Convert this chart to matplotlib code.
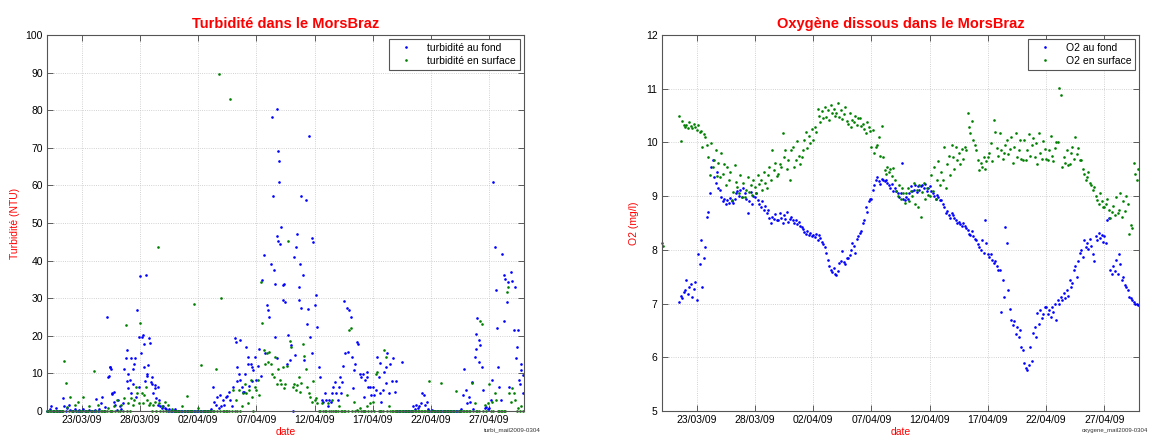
import numpy as np
import matplotlib
matplotlib.use('Agg')
import matplotlib.pyplot as plt
import matplotlib.dates as mdates
from datetime import datetime, timedelta

plt.rcParams['font.family'] = ['Liberation Sans', 'DejaVu Sans']

N = None
START = datetime(2009, 3, 20)
END = datetime(2009, 4, 30)
tick_dates = ['23/03/09', '28/03/09', '02/04/09', '07/04/09', '12/04/09',
              '17/04/09', '22/04/09', '27/04/09']

# ---- readings every 3 hours (8 per day) from 20/03/09 00:00 ----
o2_fond = [
    [N, N, N, N, N, N, N, N],
    [N, N, N, N, 7.03, 7.15, 7.10, 7.22],
    [7.25, 7.44, 7.18, 7.30, 7.37, 7.12, 7.28, 7.40],
    [7.06, 7.93, 7.74, 8.18, 7.30, 7.85, 8.05, 8.62],
    [8.70, 9.05, 9.55, 9.67, 9.36, 9.24, 9.45, 9.15],
    [9.11, 8.99, 8.90, 8.95, 8.86, 8.92, 8.88, 8.96],
    [8.90, 8.87, 8.95, 9.05, 9.10, 9.00, 9.12, 8.98],
    [9.15, 9.05, 8.95, 8.69, 8.90, 9.08, 8.85, 9.00],
    [8.99, 9.05, 8.93, 8.86, 8.80, 8.90, 8.75, 8.82],
    [8.69, 8.75, 8.60, 8.50, 8.62, 8.58, 8.66, 8.55],
    [8.55, 8.69, 8.60, 8.50, 8.65, 8.58, 8.70, 8.52],
    [8.58, 8.62, 8.56, 8.50, 8.55, 8.48, 8.52, 8.45],
    [8.42, 8.38, 8.34, 8.30, 8.36, 8.28, 8.32, 8.26],
    [8.28, 8.24, 8.30, 8.18, 8.28, 8.22, 8.15, 8.10],
    [8.06, 7.95, 7.81, 7.70, 7.62, 7.58, 7.66, 7.55],
    [7.53, 7.60, 7.75, 7.80, 7.97, 7.78, 7.74, 7.85],
    [7.85, 7.90, 8.00, 8.12, 8.08, 7.95, 8.20, 8.25],
    [8.31, 8.35, 8.50, 8.55, 8.80, 8.70, 8.90, 8.95],
    [8.95, 9.11, 9.20, 9.30, 9.35, 9.28, 9.22, 9.32],
    [9.30, 9.28, 9.30, 9.25, 9.20, 9.15, 9.22, 9.10],
    [9.15, 9.10, 9.05, 8.99, 9.05, 9.62, 8.95, 8.92],
    [8.99, 8.95, 9.05, 9.18, 9.10, 9.12, 9.20, 9.08],
    [9.18, 9.12, 9.18, 9.20, 9.15, 9.22, 9.10, 9.16],
    [9.18, 9.10, 9.05, 9.00, 8.95, 9.02, 8.98, 8.92],
    [8.93, 8.86, 8.80, 8.69, 8.72, 8.65, 8.60, 8.68],
    [8.65, 8.60, 8.56, 8.50, 8.52, 8.48, 8.45, 8.50],
    [8.45, 8.40, 8.37, 8.30, 8.28, 8.35, 8.25, 8.20],
    [8.18, 8.10, 8.06, 8.00, 8.18, 7.95, 8.56, 8.12],
    [7.93, 7.86, 7.93, 7.81, 7.75, 7.80, 7.70, 7.62],
    [7.62, 6.85, 7.44, 7.13, 8.43, 8.12, 7.25, 6.90],
    [6.69, 6.60, 6.68, 6.43, 6.57, 6.38, 6.50, 6.20],
    [6.14, 5.89, 5.80, 5.77, 5.85, 6.20, 5.93, 6.45],
    [6.57, 6.37, 6.82, 6.62, 6.88, 6.74, 6.80, 6.93],
    [6.94, 6.80, 6.88, 6.75, 6.93, 6.85, 6.99, 6.70],
    [7.06, 6.99, 7.12, 7.06, 7.20, 7.10, 7.25, 7.15],
    [7.44, 7.31, 7.38, 7.62, 7.69, 7.50, 7.80, 7.95],
    [8.00, 7.86, 8.18, 8.06, 8.12, 8.02, 8.20, 8.08],
    [7.93, 7.80, 8.25, 8.18, 8.31, 8.22, 8.28, 8.15],
    [8.25, 8.12, 8.56, 8.60, 7.62, 7.55, 7.70, 7.60],
    [7.81, 7.55, 7.93, 7.74, 7.44, 7.50, 7.35, 7.30],
    [7.25, 7.13, 7.10, 7.06, 7.03, 7.00, 6.99, 6.97],
]

o2_surface = [
    [8.12, 8.08, N, N, N, N, N, N],
    [N, N, N, N, 10.49, 10.02, 10.40, 10.33],
    [10.28, 10.32, 10.26, 10.38, 10.30, 10.27, 10.35, 10.29],
    [10.24, 10.33, 10.20, 10.22, 9.92, 10.15, 10.10, 9.95],
    [9.73, 9.40, 9.98, 9.55, 9.67, 9.85, 9.38, 9.62],
    [9.36, 9.80, 9.42, 9.60, 9.20, 9.55, 9.30, 9.45],
    [8.93, 9.08, 9.58, 9.27, 9.17, 9.05, 9.40, 8.98],
    [9.24, 8.98, 9.11, 9.35, 9.08, 9.20, 9.02, 9.30],
    [9.17, 9.05, 9.39, 9.22, 9.30, 9.12, 9.45, 9.25],
    [9.15, 9.40, 9.55, 9.30, 9.86, 9.48, 9.62, 9.38],
    [9.42, 9.60, 9.55, 10.17, 9.73, 9.85, 9.50, 9.68],
    [9.30, 9.85, 9.92, 9.55, 9.68, 10.02, 9.75, 9.60],
    [9.73, 9.86, 10.05, 10.20, 9.90, 10.12, 9.98, 10.25],
    [10.04, 10.29, 10.20, 10.62, 10.50, 10.38, 10.58, 10.45],
    [10.66, 10.48, 10.60, 10.42, 10.70, 10.55, 10.63, 10.50],
    [10.54, 10.73, 10.48, 10.60, 10.44, 10.52, 10.65, 10.40],
    [10.35, 10.55, 10.29, 10.42, 10.38, 10.50, 10.32, 10.45],
    [10.45, 10.30, 10.35, 10.25, 10.17, 10.38, 10.28, 10.22],
    [9.92, 10.23, 9.80, 9.92, 9.95, 10.10, 9.75, 10.30],
    [9.73, 9.48, 9.42, 9.55, 9.45, 9.50, 9.38, 9.52],
    [9.30, 9.10, 9.00, 9.20, 8.95, 9.15, 9.05, 8.88],
    [9.05, 9.15, 8.90, 9.10, 9.00, 9.25, 8.85, 9.12],
    [8.80, 9.20, 8.61, 9.08, 9.25, 8.95, 9.15, 9.02],
    [9.00, 9.40, 9.10, 9.55, 8.95, 9.30, 9.65, 9.20],
    [9.45, 9.30, 9.92, 9.15, 9.60, 9.75, 9.40, 9.95],
    [9.73, 9.50, 9.92, 9.67, 9.80, 9.60, 9.88, 9.70],
    [9.92, 9.86, 10.54, 10.29, 10.17, 10.40, 10.05, 9.95],
    [9.86, 9.67, 9.48, 9.61, 9.55, 9.72, 9.50, 9.65],
    [9.73, 9.80, 9.98, 9.65, 10.42, 10.20, 9.90, 9.75],
    [10.17, 9.85, 9.70, 9.80, 9.95, 10.05, 9.78, 9.88],
    [10.10, 9.61, 9.92, 10.17, 9.73, 9.85, 10.05, 9.70],
    [9.67, 10.04, 9.67, 9.86, 10.15, 9.75, 9.95, 10.08],
    [9.73, 9.98, 9.60, 10.17, 9.80, 9.70, 10.02, 9.88],
    [9.70, 9.67, 9.86, 10.12, 9.75, 9.65, 9.90, 10.00],
    [10.00, 11.02, 10.88, 9.55, 9.73, 9.62, 9.85, 9.58],
    [9.60, 9.80, 9.92, 9.70, 10.10, 9.78, 9.90, 9.68],
    [9.67, 9.50, 9.42, 9.30, 9.35, 9.45, 9.25, 9.20],
    [9.11, 9.17, 9.00, 8.93, 8.85, 9.05, 8.90, 8.80],
    [8.80, 8.86, 8.95, 8.74, 8.60, 8.70, 8.82, 8.65],
    [8.99, 8.68, 8.75, 9.05, 8.61, 8.90, 8.72, 9.00],
    [8.85, 8.29, 8.46, 8.40, 9.61, 9.42, 9.30, 9.50],
]

turb_fond = [
    [0, 0, 0.5, 1.2, 0, 0, 0.8, 0],
    [0, 0, 0, 3.5, 1.2, 0, 0.7, 1.6],
    [0.3, 0, 0, 0.5, 0, 0, 0.3, 0],
    [0, 0.5, 0, 0, 0, 0.3, 0, 0],
    [0, 0.3, 3.2, 0, 0.5, 2.0, 3.8, 0],
    [1.0, 25.1, 9.0, 11.8, 11.3, 4.7, 2.5, 1.6],
    [0.3, 3.0, 1.2, 0.5, 2.0, 11.3, 14.0, 16.2],
    [6.0, 8.2, 4.7, 7.3, 12.6, 3.8, 26.9, 6.4],
    [35.9, 19.6, 20.1, 11.7, 36.2, 9.9, 19.5, 18.2],
    [9.0, 4.7, 6.0, 3.4, 1.6, 2.9, 1.2, 0.7],
    [1.2, 0.7, 0.4, 0, 0.5, 0, 0, 0],
    [0.5, 0, 0, 0, 0, 0, 0, 0],
    [0, 0, 0, 0, 0, 0, 0, 0],
    [0, 0, 0, 0, 0, 0, 0, 0],
    [0, 0.5, 6.4, 2.5, 1.6, 3.8, 0.8, 4.3],
    [1.2, 2.9, 1.6, 3.7, 4.1, 5.0, 2.9, 1.2],
    [6.4, 19.3, 18.4, 11.7, 9.9, 8.2, 6.4, 5.0],
    [9.9, 17.1, 14.4, 6.7, 12.6, 11.7, 10.8, 14.4],
    [8.2, 12.0, 16.5, 9.3, 34.8, 41.4, 15.4, 28.2],
    [26.9, 25.1, 39.2, 78.3, 37.4, 19.7, 46.6, 45.3],
    [44.4, 48.8, 33.4, 33.9, 29.1, 12.6, 20.2, 13.5],
    [17.5, 0.0, 40.9, 43.5, 47.2, 29.6, 39.2, 27.3],
    [36.2, 13.6, 56.0, 23.2, 73.1, 19.7, 45.9, 44.9],
    [28.2, 30.8, 22.3, 11.7, 9.0, 2.9, 2.5, 4.7],
    [2.9, 1.2, 2.9, 2.5, 4.7, 6.4, 7.8, 4.7],
    [2.9, 6.4, 4.7, 7.8, 29.3, 15.4, 27.3, 15.8],
    [26.9, 25.1, 14.4, 10.8, 12.6, 18.4, 17.7, 9.9],
    [9.0, 9.9, 3.8, 8.2, 9.0, 6.4, 6.4, 4.3],
    [6.4, 4.3, 5.6, 14.4, 9.0, 4.7, 2.5, 5.6],
    [10.3, 11.7, 15.4, 4.7, 12.6, 8.0, 14.0, 5.0],
    [8.0, 0, 0, 0, 12.9, 0, 0, 0],
    [0, 0, 0, 0, 1.2, 0.5, 1.6, 0.8],
    [1.2, 2.0, 4.7, 4.3, 1.5, 2.5, 0.5, 0],
    [0, 0.3, 0, 0, 0, 0, 0, 0],
    [0, 0, 0, 0, 0, 0, 0, 0],
    [0, 0, 0, 0, 0, 0.5, 4.3, 11.3],
    [5.6, 2.0, 3.8, 2.5, 7.8, 0.5, 14.4, 16.6],
    [24.6, 18.8, 17.5, 11.7, 5.6, 0.7, 1.0, 0.5],
    [0.7, 2.9, 8.2, 61.0, 43.5, 32.2, 11.7, 6.4],
    [2.9, 41.7, 36.2, 35.2, 29.1, 34.2, 6.4, 36.9],
    [34.6, 21.5, 33.0, 17.1, 21.5, 7.3, 10.9, 4.7],
]

turb_surface = [
    [0, 0, 0, 0, 0, 0, 0, 0],
    [0, 0, 0, 0, 13.4, 7.4, 1.0, 0],
    [3.8, 0, 0, 1.6, 0, 2.5, 0, 0],
    [0, 3.8, 0, 0, 0, 1.2, 0, 0],
    [10.7, 0, 0, 1.6, 0, 0, 0, 0],
    [0, 0, 0.8, 0, 0, 0, 1.2, 0],
    [2.9, 0, 0, 1.6, 0, 3.4, 22.9, 0],
    [2.0, 0, 3.4, 1.6, 2.9, 6.4, 4.7, 2.0],
    [23.4, 4.7, 2.0, 4.3, 6.4, 2.9, 1.6, 2.0],
    [0, 1.6, 2.5, 0, 43.7, 2.0, 0, 1.2],
    [0, 2.5, 0, 1.6, 0, 0, 0.5, 0],
    [0, 0, 0, 0, 0, 1.2, 0, 0],
    [4.0, 0, 0, 0, 0, 28.4, 0, 0],
    [0.7, 0, 12.2, 0, 0, 0, 0, 0],
    [0, 0, 0, 0, 11.3, 0, 89.6, 0],
    [30.0, 0, 0, 0, 0, 0, 82.9, 0],
    [5.6, 0, 3.0, 0, 5.6, 0, 1.2, 4.7],
    [7.3, 4.7, 2.0, 5.6, 8.2, 3.8, 0, 6.4],
    [5.5, 8.2, 4.3, 34.4, 23.3, 16.2, 12.6, 15.4],
    [13.1, 15.8, 12.6, 9.9, 9.0, 14.4, 7.3, 11.3],
    [8.2, 7.3, 11.7, 6.0, 7.3, 12.0, 45.3, 18.7],
    [17.1, 6.4, 7.3, 5.6, 6.9, 9.0, 5.0, 7.5],
    [17.8, 14.6, 11.1, 6.4, 4.7, 3.8, 2.5, 8.0],
    [2.9, 3.4, 2.0, 0, 0, 2.0, 0, 0],
    [0, 2.0, 0, 0, 2.9, 0, 0, 0],
    [0, 1.2, 0, 0, 0, 0, 4.3, 0],
    [21.5, 22.2, 0, 2.5, 0, 0.3, 0, 0.7],
    [0, 0, 0, 0, 1.2, 0, 2.0, 0],
    [2.5, 0, 9.9, 10.3, 0, 0, 0, 0],
    [16.2, 14.4, 0, 1.2, 0, 0, 0, 0],
    [0, 0, 0, 0, 0, 0, 0, 0],
    [0, 0, 0, 0, 0, 0, 0, 0],
    [0, 0, 0, 0, 0, 0, 0, 8.0],
    [0, 0, 0, 0, 0, 0, 0, 7.4],
    [0, 0, 0, 0, 0, 0, 0, 0],
    [0, 5.4, 0, 0, 0, 0, 0, 0],
    [0, 0, 0, 0, 7.4, 0, 2.0, 0],
    [0, 0, 24.0, 23.2, 0, 1.6, 0, 2.0],
    [7.3, 0, 2.5, 0, 4.7, 2.9, 0, 0],
    [0, 0, 0, 0, 31.7, 33.0, 4.7, 2.5],
    [6.0, 4.7, 2.9, 0, 0.7, 0, 1.2, 0],
]

# additional (irregular) bottom turbidity readings: day offset from 20/03, value
turb_fond_extra_days = [5.3, 5.4, 5.6, 5.8, 6.9, 7.0, 7.2, 7.4, 7.6, 7.95, 8.1,
                        8.3, 8.45, 8.6, 8.7, 8.9, 9.05, 9.3, 9.5, 16.3, 16.6,
                        16.9, 17.3, 17.6, 19.75, 19.4, 19.85, 19.9, 19.95, 19.6,
                        19.8, 20.3, 21.8, 21.7, 21.3, 22.8, 22.4, 25.2, 25.4,
                        26.3, 27.5, 28.6, 29.1, 36.9, 37.1, 38.7, 39.3, 40.3,
                        40.6, 40.75, 40.9]
turb_fond_extra_vals = [9.3, 11.7, 4.6, 5.0, 8.0, 9.8, 14.2, 11.2, 14.0, 19.7,
                        15.3, 17.8, 8.1, 9.4, 12.1, 7.7, 7.2, 6.8, 6.3, 8.0,
                        18.8, 5.0, 12.4, 8.0, 80.3, 57.3, 69.2, 66.4, 61.0,
                        33.9, 14.0, 29.6, 57.2, 33.1, 14.9, 15.4, 27.0, 9.0,
                        12.0, 6.0, 10.5, 12.8, 7.5, 20.5, 13.0, 22.0, 24.0,
                        14.0, 8.3, 12.6, 9.5]


def grid_series(rows):
    vals = np.array([v for r in rows for v in r], dtype=float)
    times = [START + timedelta(hours=3 * i) for i in range(len(vals))]
    return times, vals


BLUE = '#0000ff'
GREEN = '#008000'
RED = '#ff0000'

fig = plt.figure(figsize=(11.57, 4.37), dpi=100)
ax1 = fig.add_axes([0.0406, 0.0595, 0.4123, 0.8605])
ax2 = fig.add_axes([0.5719, 0.0595, 0.4129, 0.8605])

mk = dict(linestyle='none', marker='o', markersize=1.9, markeredgewidth=0,
          clip_on=False)

# --- turbidity ---
t, v = grid_series(turb_fond)
te = [START + timedelta(days=d) for d in turb_fond_extra_days]
ax1.plot(t + te, np.concatenate([v, turb_fond_extra_vals]), color=BLUE,
         label='turbidité au fond', **mk)
t, v = grid_series(turb_surface)
ax1.plot(t, v, color=GREEN, label='turbidité en surface', **mk)
ax1.set_ylim(0, 100)
ax1.set_yticks(np.arange(0, 101, 10))
ax1.set_title('Turbidité dans le MorsBraz', color=RED, fontweight='bold',
              fontsize=10.5, pad=5)
ax1.set_ylabel('Turbidité (NTU)', color=RED, fontsize=7.5, labelpad=4)

# --- oxygen ---
t, v = grid_series(o2_fond)
ax2.plot(t, v, color=BLUE, label='O2 au fond', **mk)
t, v = grid_series(o2_surface)
ax2.plot(t, v, color=GREEN, label='O2 en surface', **mk)
ax2.set_ylim(5, 12)
ax2.set_yticks(np.arange(5, 13, 1))
ax2.set_title('Oxygène dissous dans le MorsBraz', color=RED, fontweight='bold',
              fontsize=10.5, pad=5)
ax2.set_ylabel('O2 (mg/l)', color=RED, fontsize=7.5, labelpad=5)

ticks = [datetime.strptime(s, '%d/%m/%y') for s in tick_dates]
for ax in (ax1, ax2):
    ax.set_xlim(START, END)
    ax.set_xticks(ticks)
    ax.xaxis.set_major_formatter(mdates.DateFormatter('%d/%m/%y'))
    ax.set_xlabel('date', color=RED, fontsize=7.5, labelpad=1.5)
    ax.grid(True, linestyle=':', color='#c4c4c4', linewidth=0.6)
    ax.set_axisbelow(True)
    ax.tick_params(direction='in', top=True, right=True, length=4,
                   width=0.6, labelsize=7.5, color='#444444', pad=3)
    for sp in ax.spines.values():
        sp.set_color('#555555')
        sp.set_linewidth(0.8)
    leg = ax.legend(loc='upper right', fontsize=7.5, frameon=True,
                    fancybox=False, framealpha=1, edgecolor='#555555',
                    markerscale=1.0, handlelength=2.5, handletextpad=0.8,
                    borderaxespad=0.4, borderpad=0.35, labelspacing=0.3)
    leg.get_frame().set_linewidth(0.8)

fig.text(0.418, 0.012, 'turbi_mail2009-0304', fontsize=4.5, color='#333333')
fig.text(0.935, 0.012, 'oxygene_mail2009-0304', fontsize=4.3, color='#333333')

fig.savefig('out.png', dpi=100, facecolor='white')
